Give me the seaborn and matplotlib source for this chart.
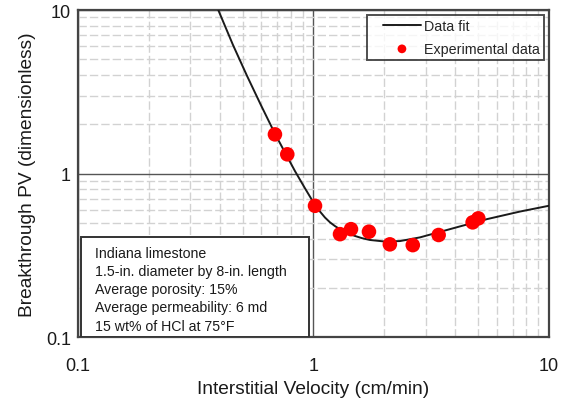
import matplotlib
matplotlib.use("Agg")
import matplotlib.pyplot as plt
from matplotlib.patches import Rectangle
from matplotlib.lines import Line2D
from matplotlib.collections import PathCollection
from matplotlib.legend_handler import HandlerLine2D, HandlerPathCollection
from matplotlib.ticker import LogLocator, FixedLocator, FixedFormatter, NullFormatter
import numpy as np
import pandas as pd
import seaborn as sns

# Experimental breakthrough measurements
velocity = [0.686, 0.774, 1.015, 1.296, 1.443, 1.72, 2.11, 2.64, 3.40, 4.74, 5.01]
pv_breakthrough = [1.736, 1.311, 0.635, 0.426, 0.457, 0.441, 0.369, 0.365, 0.421, 0.503, 0.532]

# Fitted curve (sampled)
fit_velocity = [0.3942, 0.4551, 0.5220, 0.5985, 0.6863, 0.7568, 0.8347, 0.9203, 0.9854,
                1.0248, 1.0656, 1.1189, 1.1751, 1.2339, 1.2957, 1.3875, 1.5005, 1.6071,
                1.7375, 2.0119, 2.3300, 2.8334, 3.4447, 4.1892, 5.4548, 7.5337, 10.0]
fit_pv = [10.0, 6.117, 3.959, 2.617, 1.751, 1.345, 1.0343, 0.8124, 0.6894,
          0.6355, 0.5857, 0.5384, 0.5031, 0.4772, 0.4561, 0.4337, 0.4152, 0.4026,
          0.3925, 0.3838, 0.3865, 0.4071, 0.4398, 0.4752, 0.5264, 0.5857, 0.6355]

tick_values = [0.1, 1, 10]
tick_labels = ["0.1", "1", "10"]

info_lines = [
    "Indiana limestone",
    "1.5-in. diameter by 8-in. length",
    "Average porosity: 15%",
    "Average permeability: 6 md",
    "15 wt% of HCl at 75\u00b0F",
]

sns.set_style("white")
plt.rcParams["font.family"] = ["Liberation Sans", "DejaVu Sans"]

fig = plt.figure(figsize=(5.61, 4.02), dpi=100)
ax = fig.add_axes([0.139, 0.159, 0.8396, 0.8136])

fit_df = pd.DataFrame({"v": fit_velocity, "pv": fit_pv})
exp_df = pd.DataFrame({"v": velocity, "pv": pv_breakthrough})

ax.set_xscale("log")
ax.set_yscale("log")
ax.set_xlim(0.1, 10)
ax.set_ylim(0.1, 10)

sns.lineplot(data=fit_df, x="v", y="pv", ax=ax, color="#1a1a1a", linewidth=1.4,
             label="Data fit", zorder=4, sort=False)
sns.scatterplot(data=exp_df, x="v", y="pv", ax=ax, color="#ff0000", s=110,
                edgecolor="none", label="Experimental data", zorder=5)

# Grid: solid decades, dashed minor lines
ax.xaxis.set_major_locator(FixedLocator(tick_values))
ax.xaxis.set_major_formatter(FixedFormatter(tick_labels))
ax.yaxis.set_major_locator(FixedLocator(tick_values))
ax.yaxis.set_major_formatter(FixedFormatter(tick_labels))
ax.xaxis.set_minor_locator(LogLocator(base=10, subs=np.arange(2, 10)))
ax.yaxis.set_minor_locator(LogLocator(base=10, subs=np.arange(2, 10)))
ax.xaxis.set_minor_formatter(NullFormatter())
ax.yaxis.set_minor_formatter(NullFormatter())
ax.grid(which="major", color="#555555", linewidth=1.0, linestyle="-", zorder=1)
ax.grid(which="minor", color="#d2d2d2", linewidth=1.0, linestyle=(0, (6, 2.2)), zorder=1)
ax.set_axisbelow(True)
ax.tick_params(which="both", length=0, labelsize=13, colors="#1a1a1a")
ax.tick_params(axis="x", pad=14)
ax.tick_params(axis="y", pad=5)

for s in ax.spines.values():
    s.set_color("#444444")
    s.set_linewidth(1.6)

ax.set_xlabel("Interstitial Velocity (cm/min)", fontsize=13.8, color="#1a1a1a", labelpad=5)
ax.set_ylabel("Breakthrough PV (dimensionless)", fontsize=13.8, color="#1a1a1a", labelpad=7)

# Conditions box at lower left
ax.add_patch(Rectangle((0.0064, 0.0), 0.484, 0.306, transform=ax.transAxes,
                       facecolor="white", edgecolor="#333333", linewidth=1.4, zorder=3))
ax.text(0.036, 0.279, "\n".join(info_lines), transform=ax.transAxes, fontsize=10.2,
        va="top", ha="left", linespacing=1.38, color="#1a1a1a", zorder=6)

# Legend handles indented from the frame's left edge
handler_map = {Line2D: HandlerLine2D(xpad=0.8),
               PathCollection: HandlerPathCollection(xpad=0.8)}
leg = ax.legend(loc="upper right", frameon=True, fancybox=False, fontsize=10.3,
                borderaxespad=0.35, handlelength=3.5, markerscale=0.6,
                borderpad=0.28, labelspacing=0.6, handletextpad=0.2,
                handler_map=handler_map)
leg.get_frame().set_edgecolor("#222222")
leg.get_frame().set_linewidth(1.4)
leg.set_zorder(7)

fig.savefig("out.png", dpi=100)
